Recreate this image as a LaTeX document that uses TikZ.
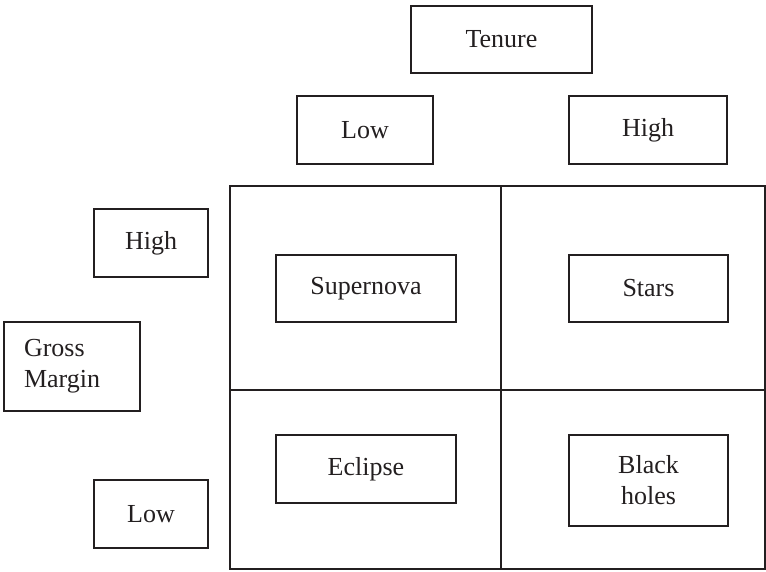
\documentclass[tikz,border=0pt]{standalone}
\usepackage{fontspec}
\setmainfont{Liberation Serif}
\definecolor{ink}{RGB}{35,31,32}
\begin{document}
\begin{tikzpicture}[x=1pt,y=-1pt,
  box/.style={draw=ink, text=ink, line width=1.1pt, inner sep=0pt, align=center,
    font=\fontsize{26}{31}\selectfont},
  gridline/.style={draw=ink, line width=1.1pt}]
\useasboundingbox (0,0) rectangle (766,571);
% grid
\draw[gridline] (230,186) rectangle (765,569);
\draw[gridline] (501,186) -- (501,569);
\draw[gridline] (230,390) -- (765,390);
% header boxes
\node[box, minimum width=181pt, minimum height=67pt] (tenure) at (501.5,39.5) {Tenure};
\node[box, minimum width=136pt, minimum height=68pt] (lowT) at (365,130) {Low};
\node[box, minimum width=158pt, minimum height=68pt] (highT) at (648,130) {High};
% side boxes
\node[box, minimum width=114pt, minimum height=68pt] (highL) at (151,243) {High};
\node[box, minimum width=136pt, minimum height=89pt, align=left, text width=96pt] (gross) at (72,366.5) {Gross\\Margin};
\node[box, minimum width=114pt, minimum height=68pt] (lowL) at (151,514) {Low};
% quadrant boxes
\node[box, minimum width=180pt, minimum height=67pt] (supernova) at (366,288.5) {Supernova};
\node[box, minimum width=159pt, minimum height=67pt] (stars) at (648.5,288.5) {Stars};
\node[box, minimum width=180pt, minimum height=68pt] (eclipse) at (366,469) {Eclipse};
\node[box, minimum width=159pt, minimum height=91pt] (blackholes) at (648.5,480.5) {Black\\holes};
\end{tikzpicture}
\end{document}
